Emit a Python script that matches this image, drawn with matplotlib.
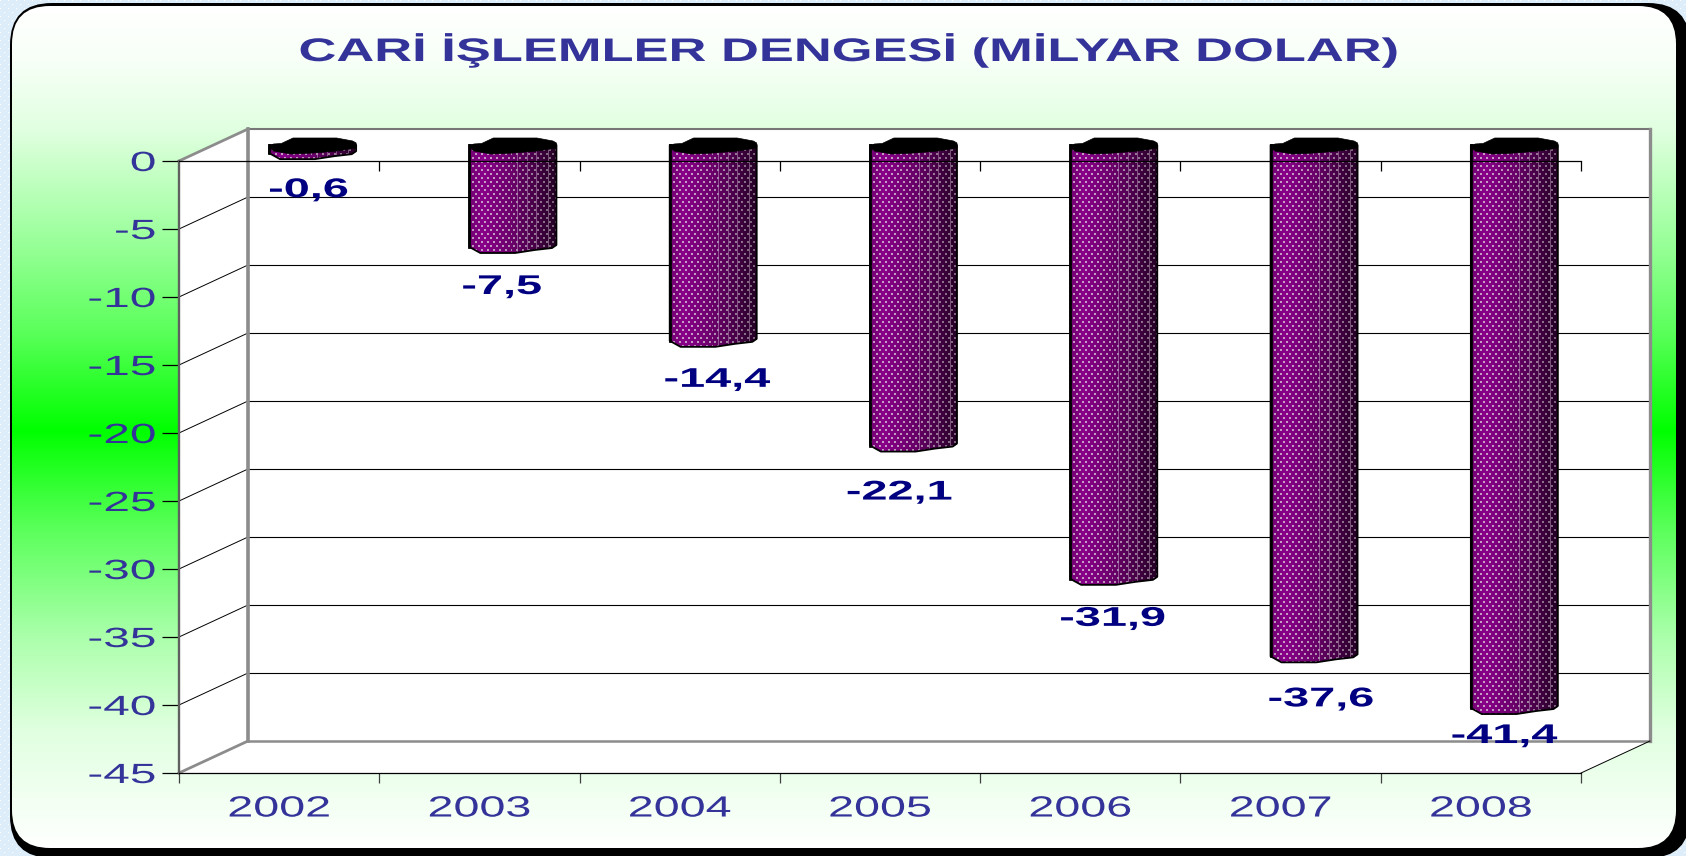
import numpy as np
import matplotlib
matplotlib.use("Agg")
import matplotlib.pyplot as plt
from matplotlib.patches import FancyBboxPatch, Polygon
from matplotlib.patheffects import AbstractPathEffect
from matplotlib.transforms import Affine2D

# ---- data ----
TITLE = "CARİ İŞLEMLER DENGESİ (MİLYAR DOLAR)"
YEARS = ["2002", "2003", "2004", "2005", "2006", "2007", "2008"]
VALUES = [-0.6, -7.5, -14.4, -22.1, -31.9, -37.6, -41.4]
VALUE_LABELS = ["-0,6", "-7,5", "-14,4", "-22,1", "-31,9", "-37,6", "-41,4"]
Y_TICKS = [0, -5, -10, -15, -20, -25, -30, -35, -40, -45]
Y_LABELS = ["0", "-5", "-10", "-15", "-20", "-25", "-30", "-35", "-40", "-45"]
# hand placed label offsets in the original (px right, px below the bar's mid-depth end)
LABEL_DX = [-5, -12, 3, -15, -2, 6, -11]
LABEL_DY = [37, 40, 39, 47, 40, 43, 28]

W, H = 1686, 856
FONT = "Liberation Sans"
TITLE_C = "#333399"
LABEL_C = "#000080"


class StretchX(AbstractPathEffect):
    """Widen real text horizontally around its centre or right edge."""
    def __init__(self, sx, anchor="center"):
        super().__init__()
        self.sx, self.anchor = sx, anchor

    def draw_path(self, renderer, gc, tpath, affine, rgbFace=None):
        e = tpath.get_extents()
        a = e.x1 if self.anchor == "right" else 0.5 * (e.x0 + e.x1)
        t = Affine2D().translate(-a, 0).scale(self.sx, 1).translate(a, 0)
        renderer.draw_path(gc, tpath, t + affine, rgbFace)


fig = plt.figure(figsize=(W / 100, H / 100), dpi=100)

# ---- page background in pixel coordinates ----
bg = fig.add_axes([0, 0, 1, 1], zorder=0)
bg.set_xlim(0, W)
bg.set_ylim(H, 0)
bg.axis("off")

yy, xx = np.mgrid[0:H, 0:W]
page = np.ones((H, W, 3)) * np.array([0.87, 0.93, 0.98])
page[((xx % 8 == 0) & (yy % 8 == 0)) | ((xx % 8 == 4) & (yy % 8 == 4))] = 1.0
bg.imshow(page, extent=(0, W, H, 0), aspect="auto", interpolation="nearest", zorder=0)

outer = FancyBboxPatch((10, 3), W + 4 - 10, H + 2 - 3, boxstyle="round,pad=0,rounding_size=42",
                       fc="black", ec="none", zorder=1)
bg.add_patch(outer)
inner = FancyBboxPatch((12, 6), 1676 - 12, 848 - 6, boxstyle="round,pad=0,rounding_size=38",
                       fc="none", ec="none", zorder=2)
bg.add_patch(inner)
stop_y = [6, 60, 130, 250, 330, 430, 530, 640, 730, 848]
stop_rb = [1.0, 0.97, 0.88, 0.58, 0.36, 0.0, 0.36, 0.68, 0.88, 1.0]
rb = np.interp(np.arange(H), stop_y, stop_rb)
grad = np.ones((H, 1, 3))
grad[:, 0, 0] = rb
grad[:, 0, 2] = rb
im = bg.imshow(grad, extent=(0, W, H, 0), aspect="auto", interpolation="bilinear", zorder=2)
im.set_clip_path(inner)
bg.set_xlim(0, W)
bg.set_ylim(H, 0)

bg.text(848, 61, TITLE, ha="center", va="baseline", family=FONT, weight="bold",
        fontsize=23.5, color=TITLE_C, path_effects=[StretchX(1.607)], zorder=5)

# ---- chart axes: the front plane of the 3-D box ----
L, R, T, B = 179, 1581, 161, 773
ax = fig.add_axes([L / W, 1 - B / H, (R - L) / W, (B - T) / H], zorder=1)
ax.patch.set_alpha(0)
ax.set_xlim(0, len(YEARS))
ax.set_ylim(-45, 0)
ux = (R - L) / len(YEARS)   # px per category
uy = (B - T) / 45.0         # px per value unit
dx = 69 / ux                # box depth, data units
dy = 32 / uy

GRAY = "#8c8c8c"
n = len(YEARS)
kw = dict(clip_on=False)
# walls and floor
ax.add_patch(Polygon([(0, 0), (dx, dy), (dx, -45 + dy), (0, -45)], fc="white", ec="none", zorder=0.5, **kw))
ax.add_patch(Polygon([(dx, dy), (n + dx, dy), (n + dx, -45 + dy), (dx, -45 + dy)], fc="white", ec="none", zorder=0.5, **kw))
ax.add_patch(Polygon([(0, -45), (n, -45), (n + dx, -45 + dy), (dx, -45 + dy)], fc="white", ec="none", zorder=0.5, **kw))
# grid on the back and side walls
for v in Y_TICKS[1:-1]:
    ax.plot([dx, n + dx], [v + dy, v + dy], color="black", lw=0.8, zorder=0.8, **kw)
    ax.plot([0, dx], [v, v + dy], color="black", lw=0.7, zorder=0.8, **kw)
# box edges
ax.plot([dx, n + dx], [dy, dy], color="#777777", lw=1.5, zorder=0.9, **kw)
ax.plot([dx, dx], [dy, -45 + dy], color=GRAY, lw=2.6, zorder=0.9, **kw)
ax.plot([n + dx, n + dx], [dy, -45 + dy], color=GRAY, lw=2.4, zorder=0.9, **kw)
ax.plot([dx, n + dx], [-45 + dy, -45 + dy], color=GRAY, lw=1.8, zorder=0.9, **kw)
ax.plot([0, dx], [0, dy], color=GRAY, lw=2.0, zorder=0.9, **kw)
ax.plot([0, dx], [-45, -45 + dy], color=GRAY, lw=2.0, zorder=0.9, **kw)
ax.plot([n, n + dx], [-45, -45 + dy], color="black", lw=0.7, zorder=0.9, **kw)

# axes furniture
for s in ("right",):
    ax.spines[s].set_visible(False)
ax.spines["top"].set_color("black")
ax.spines["top"].set_linewidth(0.9)
ax.spines["top"].set_zorder(4)
ax.spines["bottom"].set_color("black")
ax.spines["bottom"].set_linewidth(0.9)
ax.spines["left"].set_color("#606060")
ax.spines["left"].set_linewidth(1.7)
ax.set_yticks(Y_TICKS)
ax.set_yticklabels(Y_LABELS, family=FONT, fontsize=20, color=TITLE_C)
ax.tick_params(axis="y", length=12, width=0.9, color="black", pad=4.8)
for t in ax.get_yticklabels():
    t.set_path_effects([StretchX(1.72, "right")])
ax.set_xticks(np.arange(n + 1))
ax.tick_params(axis="x", which="major", length=7.5, width=0.9, color="#404040", labelbottom=False)
ax.set_xticks(np.arange(n) + 0.5, minor=True)
ax.set_xticklabels(YEARS, minor=True, family=FONT, fontsize=21, color=TITLE_C)
ax.tick_params(axis="x", which="minor", length=0, pad=15.5)
for t in ax.get_xticklabels(minor=True):
    t.set_path_effects([StretchX(1.6)])
ax.vlines(np.arange(1, n + 1), -10 / uy, 0, color="black", lw=0.9, zorder=4, **kw)

# ---- bars ----
half = 43.5 / ux
shift = -1 / ux
# bottom edge and top cap outlines: (fraction of half width, px below the end centre)
BOTTOM = [(-1, 0), (-0.75, 6), (0.05, 6), (0.5, 3), (0.9, 1), (1, -2)]
CAP = [(-1, 2), (-0.9, -1), (-0.72, -1.5), (-0.45, -7), (0.55, -7), (0.92, -4), (1, -2), (1, 3),
       (0.55, 6), (0, 8), (-0.5, 9), (-0.9, 6)]
f_stop = [0, 0.15, 0.5, 0.8, 1]
r_stop = [0.44, 0.54, 0.42, 0.26, 0.14]


def bar_texture(w, h):
    f = np.linspace(0, 1, w)
    r = np.interp(f, f_stop, r_stop)
    img = np.zeros((h, w, 3))
    img[:, :, 0] = r
    img[:, :, 2] = r
    for lx in (0.57, 0.68, 0.79, 0.93):
        c = int(lx * (w - 1))
        img[:, c] = img[:, c] * 0.55 + np.array([0.85, 0.7, 0.85]) * 0.45
    ys, xs = np.mgrid[0:h, 0:w]
    dots = ((xs % 6 < 2) & (ys % 8 < 2)) | (((xs + 3) % 6 < 2) & ((ys + 4) % 8 < 2))
    light = 0.35 + 0.42 * np.clip(r / 0.5, 0, 1)
    col = np.stack([light, light * 0.8, light], axis=1)[None, :, :]
    col = np.repeat(col, h, axis=0)
    img[dots] = col[dots]
    return img


for i, v in enumerate(VALUES):
    cx = i + 0.5 + dx / 2 + shift
    top = dy / 2
    end = v + dy / 2
    body = [(cx - half, top)]
    body += [(cx + f * half, end - px / uy) for f, px in BOTTOM]
    body += [(cx + half, top)]
    poly = Polygon(body, fc="none", ec="black", lw=1.3, zorder=2.1, joinstyle="round", **kw)
    ax.add_patch(poly)
    tw = int(2 * half * ux) + 1
    th = int((top - end) * uy) + 12
    tex = ax.imshow(bar_texture(tw, th), extent=(cx - half, cx + half, top - th / uy, top),
                    aspect="auto", interpolation="nearest", zorder=2)
    tex.set_clip_box(fig.bbox)
    tex.set_clip_path(Polygon(body, transform=ax.transData))
    ax.plot([cx - half, cx - half], [top, end], color="black", lw=2.0, zorder=2.2, **kw)
    cap = [(cx + f * half, top - px / uy) for f, px in CAP]
    ax.add_patch(Polygon(cap, fc="black", ec="black", lw=0.5, zorder=2.3, **kw))
    ax.annotate(VALUE_LABELS[i], (cx, end), xytext=(LABEL_DX[i] + 1, -LABEL_DY[i]),
                textcoords="offset pixels", ha="center", va="center", family=FONT,
                weight="bold", fontsize=19.5, color=LABEL_C, zorder=6,
                annotation_clip=False, path_effects=[StretchX(1.73)])

ax.set_xlim(0, n)
ax.set_ylim(-45, 0)
fig.savefig("out.png", dpi=100)
